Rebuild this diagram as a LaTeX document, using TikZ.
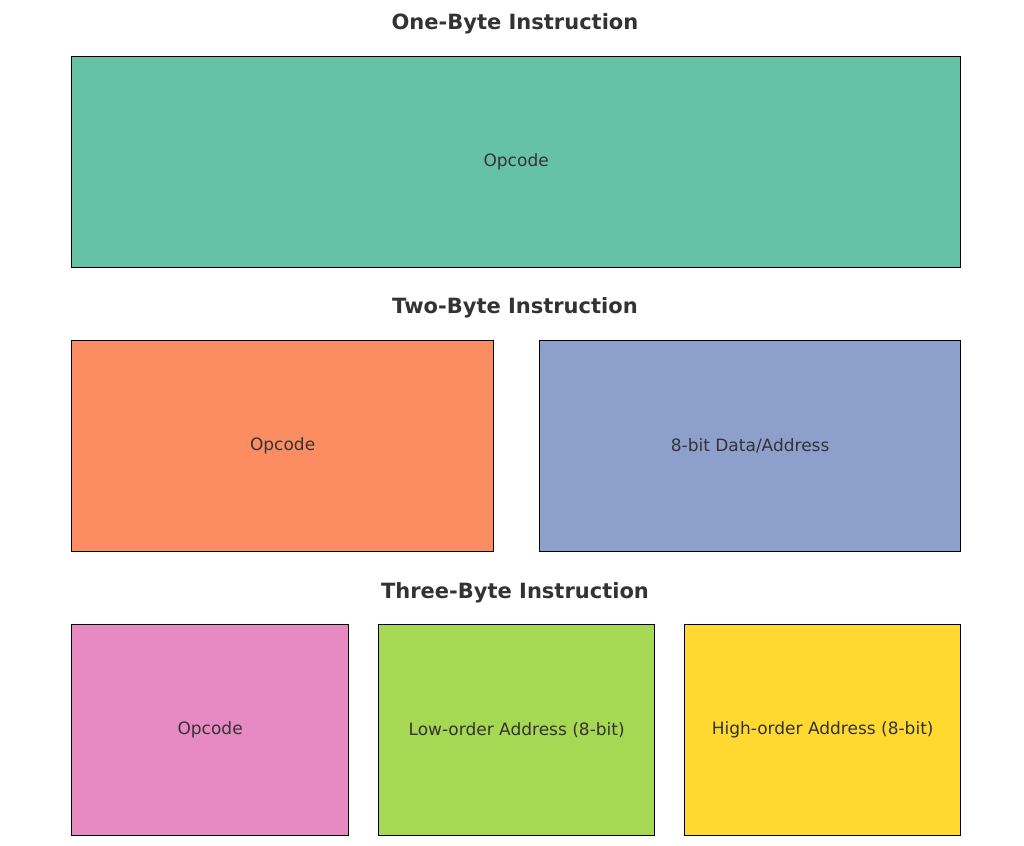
\documentclass[tikz,border=0pt]{standalone}
\usepackage{fontspec}
\setmainfont{DejaVu Sans}
\usetikzlibrary{positioning}
\definecolor{fieldA}{HTML}{66C2A5}
\definecolor{fieldB}{HTML}{FC8D62}
\definecolor{fieldC}{HTML}{8DA0CB}
\definecolor{fieldD}{HTML}{E78AC3}
\definecolor{fieldE}{HTML}{A6D854}
\definecolor{fieldF}{HTML}{FFD92F}
\definecolor{inktext}{HTML}{333333}
\begin{document}
\begin{tikzpicture}[
    x=1pt, y=-1pt,
    field/.style={draw=black, line width=1.3pt, anchor=north west, inner sep=0,
        text=inktext, font=\fontsize{17}{20}\selectfont, minimum height=211pt},
    title/.style={text=inktext, font=\fontsize{21}{24}\selectfont\bfseries}]
\useasboundingbox (0,0) rectangle (1024,845);

% one byte
\node[title] (t1) at (515,24) {One-Byte Instruction};
\node[field, fill=fieldA, minimum width=889pt] (opA) at (71,56) {Opcode};

% two bytes
\node[title] (t2) at (515,308) {Two-Byte Instruction};
\node[field, fill=fieldB, minimum width=422pt] (opB) at (71,340) {Opcode};
\node[field, fill=fieldC, minimum width=421pt] (dataB) at (539,340) {8-bit Data/Address};

% three bytes
\node[title] (t3) at (515,593) {Three-Byte Instruction};
\node[field, fill=fieldD, minimum width=277pt] (opC) at (71,624) {Opcode};
\node[field, fill=fieldE, minimum width=276pt] (lowC) at (378,624) {Low-order Address (8-bit)};
\node[field, fill=fieldF, minimum width=276pt] (highC) at (684,624) {High-order Address (8-bit)};

\end{tikzpicture}
\end{document}
